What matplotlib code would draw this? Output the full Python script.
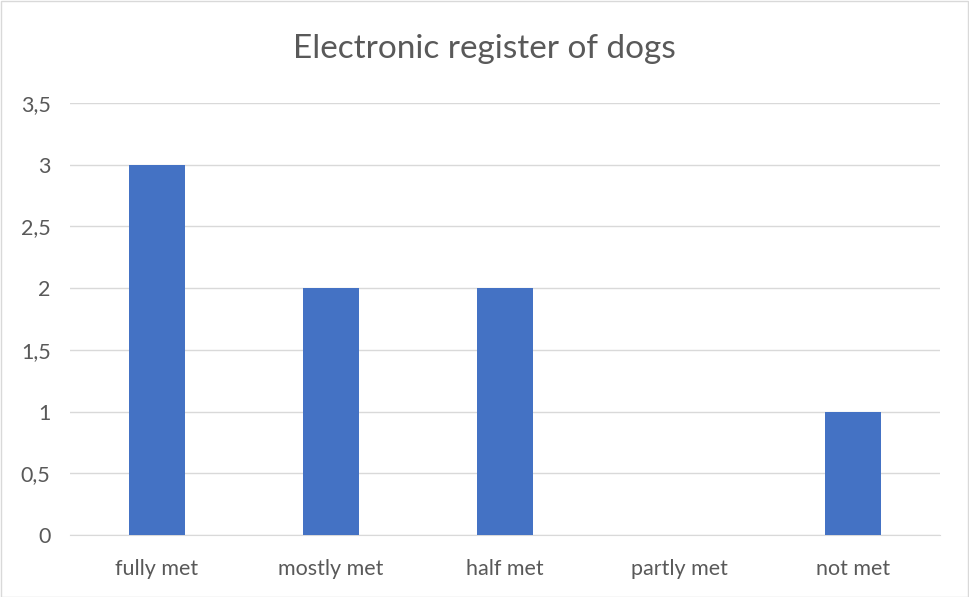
import matplotlib.pyplot as plt
from matplotlib.patches import Rectangle
from matplotlib.ticker import FuncFormatter

categories = ["fully met", "mostly met", "half met", "partly met", "not met"]
values = [3, 2, 2, 0, 1]
y_ticks = [0, 0.5, 1, 1.5, 2, 2.5, 3, 3.5]

plt.rcParams['font.family'] = ['Lato', 'DejaVu Sans']
text_color = '#595959'

fig = plt.figure(figsize=(9.69, 5.97), dpi=100)
ax = fig.add_axes([70 / 969, 1 - 535 / 597, 870 / 969, 432 / 597])

x = range(len(categories))
ax.bar(x, values, width=0.32, color='#4472c4', zorder=3)

ax.set_xlim(-0.5, len(categories) - 0.5)
ax.set_ylim(0, 3.5)
ax.set_yticks(y_ticks)
ax.yaxis.set_major_formatter(FuncFormatter(lambda v, p: ('%g' % v).replace('.', ',')))
ax.set_xticks(list(x))
ax.set_xticklabels(categories)

ax.grid(axis='y', color='#d9d9d9', linewidth=1, zorder=0)
for side in ['top', 'right', 'left']:
    ax.spines[side].set_visible(False)
ax.spines['bottom'].set_color('#d9d9d9')
ax.tick_params(axis='both', length=0, labelsize=15.5, labelcolor=text_color)
ax.tick_params(axis='y', pad=14)
ax.tick_params(axis='x', pad=17)

fig.text(0.5, 1 - 49 / 597, "Electronic register of dogs", ha='center', va='center',
         fontsize=24, color=text_color)

# outer chart border
fig.patches.append(Rectangle((0.5 / 969, 0.5 / 597), 1 - 1.5 / 969, 1 - 1.5 / 597,
                             transform=fig.transFigure, fill=False,
                             edgecolor='#d9d9d9', linewidth=1))

fig.savefig("out.png", dpi=100)
